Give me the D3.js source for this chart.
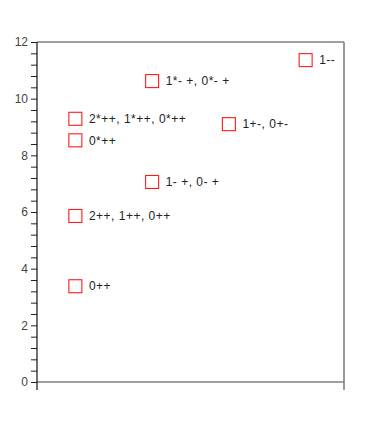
<!DOCTYPE html>
<html>
<head>
<meta charset="utf-8">
<script src="https://d3js.org/d3.v7.min.js"></script>
<style>
  body { margin: 0; background: #fff; }
  svg { display: block; font-family: "Liberation Sans", Arial, Helvetica, sans-serif; }
</style>
</head>
<body>
<div id="chart"></div>
<script>
// category slot on the x axis, value on the y axis, and the label beside each marker
var xSlots = [4, 3, 2, 2, 1, 1, 1, 1];
var yValues = [11.36, 9.10, 10.62, 7.06, 9.29, 8.53, 5.86, 3.38];
var labels = ["1--", "1+-, 0+-", "1*- +, 0*- +", "1- +, 0- +",
              "2*++, 1*++, 0*++", "0*++", "2++, 1++, 0++", "0++"];
var yMajorTicks = [0, 2, 4, 6, 8, 10, 12];

var width = 384, height = 425;
var margin = {top: 42, right: 40, bottom: 43, left: 37};

var svg = d3.select("#chart").append("svg")
    .attr("width", width)
    .attr("height", height);

var x = d3.scaleLinear().domain([0.5, 4.5]).range([margin.left, width - margin.right]);
var y = d3.scaleLinear().domain([0, 12]).range([height - margin.bottom, margin.top]);

var pts = xSlots.map(function(d, i) { return {x: d, y: yValues[i], label: labels[i]}; });

// frame (grey)
var frame = svg.append("g").attr("stroke", "#808080").attr("stroke-width", 1.6).attr("fill", "none");
frame.append("line").attr("x1", x(0.5)).attr("x2", x(4.5)).attr("y1", y(12)).attr("y2", y(12));
frame.append("line").attr("x1", x(0.5)).attr("x2", x(4.5)).attr("y1", y(0)).attr("y2", y(0));
frame.append("line").attr("x1", x(4.5)).attr("x2", x(4.5)).attr("y1", y(12)).attr("y2", y(0) + 8);

// y axis with minor ticks every 0.4
var tickVals = d3.range(0, 31).map(function(i) { return +(i * 0.4).toFixed(1); });
var yAxis = d3.axisLeft(y)
    .tickValues(tickVals)
    .tickSize(6)
    .tickPadding(3)
    .tickFormat(function(d) { return yMajorTicks.indexOf(d) >= 0 ? d : ""; });

var gy = svg.append("g")
    .attr("transform", "translate(" + margin.left + ",0)")
    .call(yAxis);
gy.select(".domain").remove();
gy.selectAll(".tick line").attr("stroke", "#222");
gy.selectAll(".tick text").attr("fill", "#444").style("font-size", "12px");
gy.append("line")
    .attr("x1", 0).attr("x2", 0)
    .attr("y1", y(12)).attr("y2", y(0) + 8)
    .attr("stroke", "#111").attr("stroke-width", 1.2);

// markers
var s = 13;
var g = svg.append("g").selectAll("g").data(pts).enter().append("g");
g.append("rect")
    .attr("x", function(d) { return x(d.x) - s / 2; })
    .attr("y", function(d) { return y(d.y) - s / 2; })
    .attr("width", s).attr("height", s)
    .attr("fill", "none")
    .attr("stroke", "#ff1a1a")
    .attr("stroke-width", 1.1);
g.append("text")
    .attr("x", function(d) { return x(d.x) + s / 2 + 7; })
    .attr("y", function(d) { return y(d.y); })
    .attr("dy", "0.35em")
    .attr("fill", "#222")
    .style("font-size", "12px")
    .style("letter-spacing", "0.5px")
    .text(function(d) { return d.label; });
</script>
</body>
</html>
